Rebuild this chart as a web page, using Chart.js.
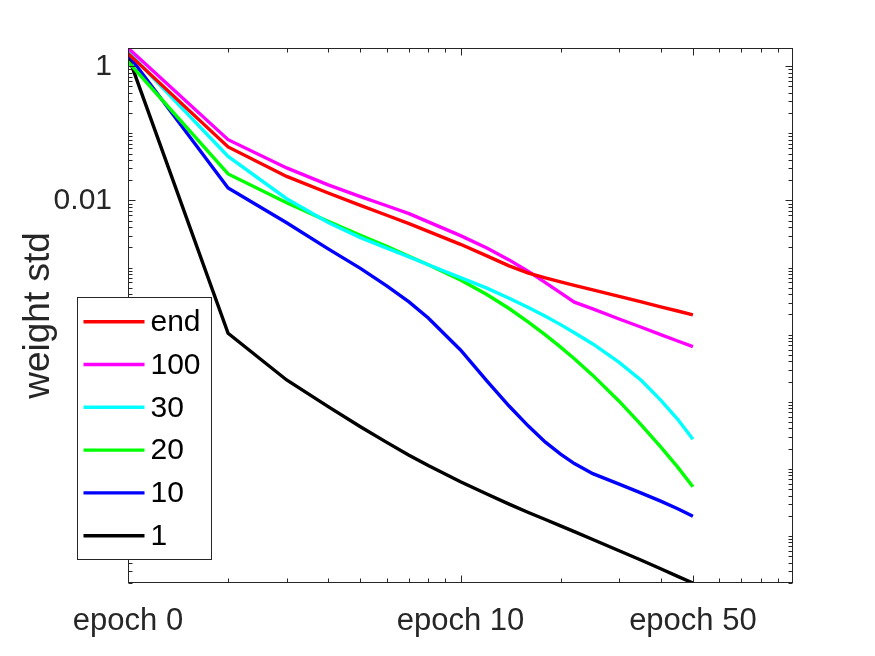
<!DOCTYPE html>
<html><head><meta charset="utf-8">
<script src="https://cdn.jsdelivr.net/npm/chart.js@4/dist/chart.umd.min.js"></script>
<style>html,body{margin:0;padding:0;background:#fff}#wrap{width:875px;height:656px}</style>
</head><body><div id="wrap"><canvas id="c" width="875" height="656"></canvas></div>
<script>
// x positions on the log axis (axis units; labelled as epochs)
const epochs = [1,2,3,4,5,6,7,8,10,12,14,16,18,20,22,25,30,35,40,45,50];

const seriesLabels = ['end','100','30','20','10','1'];
const seriesColors = ['#ff0000','#ff00ff','#00ffff','#00ff00','#0000ff','#000000'];

const stdEnd = [1.55,0.0627,0.0228,0.0129,0.00842,0.00601,0.00451,0.00346,0.00222,1.49e-3,1.06e-3,8.28e-4,7.0e-4,6.12e-4,5.44e-4,4.65e-4,3.71e-4,3.07e-4,2.60e-4,2.25e-4,1.97e-4];
const std100 = [1.87,0.0805,0.0305,0.0171,0.0114,0.00834,0.00637,0.0048,0.00299,1.95e-3,1.30e-3,8.75e-4,5.97e-4,4.19e-4,3.05e-4,2.42e-4,1.71e-4,1.29e-4,1.00e-4,8.05e-5,6.62e-5];
const std30 = [1.66,0.0454,0.0106,0.00468,0.00279,0.00195,0.00144,0.0011,7.06e-4,4.93e-4,3.49e-4,2.54e-4,1.88e-4,1.41e-4,1.07e-4,7.26e-5,3.86e-5,2.07e-5,1.06e-5,5.48e-6,2.77e-6];
const std20 = [1.17,0.0248,0.00925,0.00488,0.00303,0.00207,0.00147,0.0011,6.53e-4,3.97e-4,2.45e-4,1.54e-4,9.9e-5,6.51e-5,4.37e-5,2.47e-5,1.02e-5,4.49e-6,2.12e-6,1.06e-6,5.42e-7];
const std10 = [1.5,0.0153,0.00465,1.90e-3,9.73e-4,5.33e-4,3.08e-4,1.77e-4,5.91e-5,2.04e-5,8.63e-6,4.34e-6,2.50e-6,1.66e-6,1.20e-6,8.48e-7,5.92e-7,4.34e-7,3.30e-7,2.55e-7,1.97e-7];
const std1 = [1.45,1.05e-4,2.11e-5,8.45e-6,4.25e-6,2.48e-6,1.60e-6,1.12e-6,6.44e-7,4.21e-7,2.98e-7,2.24e-7,1.76e-7,1.41e-7,1.16e-7,8.87e-8,6.01e-8,4.34e-8,3.24e-8,2.5e-8,1.99e-8];

const xTickValues = [1,10,50];
const xTickLabels = ['epoch 0','epoch 10','epoch 50'];
const yTickValues = [0.01,1];
const yTickLabels = ['0.01','1'];
const xMinorValues = [2,3,4,5,6,7,8,9,20,30,40,60,70,80,90];
const xRange = [1,100];
const yRange = [1.99e-8,1.87];

const FONT = "'Liberation Sans', Arial, Helvetica, sans-serif";
const AXIS = '#262626';

const allSeries = [stdEnd,std100,std30,std20,std10,std1];
const datasets = allSeries.map((s,i)=>({
  label: seriesLabels[i],
  data: epochs.map((e,j)=>({x:e,y:s[j]})),
  borderColor: seriesColors[i],
  backgroundColor: seriesColors[i],
  borderWidth: 3.4,
  pointRadius: 0,
  tension: 0,
  fill: false
}));

const decor = {
  id:'decor',
  afterDatasetsDraw(chart){
    const {ctx, chartArea:a, scales:{x,y}} = chart;
    ctx.save();
    ctx.strokeStyle = AXIS;
    ctx.lineWidth = 1;
    ctx.beginPath();
    const L = Math.round(a.left)+0.5, R = Math.round(a.right)-0.5, T = Math.round(a.top)+0.5, B = Math.round(a.bottom)-0.5;
    const xt = (v,len)=>{const p=Math.round(x.getPixelForValue(v))+0.5; ctx.moveTo(p,B); ctx.lineTo(p,B-len); ctx.moveTo(p,T); ctx.lineTo(p,T+len);};
    const yt = (v,len)=>{const p=Math.round(y.getPixelForValue(v))+0.5; ctx.moveTo(L,p); ctx.lineTo(L+len,p); ctx.moveTo(R,p); ctx.lineTo(R-len,p);};
    xTickValues.forEach(v=>xt(v,7));
    xMinorValues.forEach(v=>xt(v,4));
    yTickValues.forEach(v=>yt(v,7));
    for(let n=-8;n<=0;n++){
      for(let k=1;k<=9;k++){
        const v=k*Math.pow(10,n);
        if(v<yRange[0]||v>yRange[1]) continue;
        if(yTickValues.some(t=>Math.abs(t-v)/t<1e-9)) continue;
        yt(v,4);
      }
    }
    ctx.stroke();
    ctx.strokeRect(L,T,R-L,B-T);
    ctx.restore();
  },
  afterDraw(chart){
    const {ctx, chartArea:a} = chart;
    const bx = Math.round(a.left)-51+0.5, by = 297.5, bw = 134, bh = 262;
    ctx.save();
    ctx.fillStyle='#fff';
    ctx.fillRect(bx,by,bw,bh);
    ctx.strokeStyle=AXIS; ctx.lineWidth=1;
    ctx.strokeRect(bx,by,bw,bh);
    ctx.font = '30px '+FONT;
    ctx.textBaseline='middle';
    ctx.textAlign='left';
    chart.data.datasets.forEach((ds,i)=>{
      const ry = 321.7 + i*42.8;
      ctx.strokeStyle = ds.borderColor; ctx.lineWidth=3.4;
      ctx.beginPath(); ctx.moveTo(bx+6,ry); ctx.lineTo(bx+67,ry); ctx.stroke();
      ctx.fillStyle='#000';
      ctx.fillText(ds.label, bx+73, ry+1);
    });
    ctx.restore();
  }
};

new Chart(document.getElementById('c'), {
  type:'line',
  data:{datasets},
  options:{
    responsive:false,
    animation:false,
    devicePixelRatio:1,
    layout:{padding:{left:0,right:82,top:48,bottom:0}},
    plugins:{legend:{display:false},tooltip:{enabled:false}},
    scales:{
      x:{
        type:'logarithmic', min:xRange[0], max:xRange[1],
        grid:{display:false, drawTicks:false}, border:{display:false},
        afterBuildTicks:s=>{s.ticks = xTickValues.map(v=>({value:v}));},
        afterFit:s=>{s.height=73;},
        ticks:{autoSkip:false,maxRotation:0,minRotation:0,padding:20,color:AXIS,font:{family:FONT,size:31},
          callback:(v,i)=>xTickLabels[i]}
      },
      y:{
        type:'logarithmic', min:yRange[0], max:yRange[1],
        grid:{display:false, drawTicks:false}, border:{display:false},
        afterBuildTicks:s=>{s.ticks = yTickValues.map(v=>({value:v}));},
        afterFit:s=>{s.width=128;},
        title:{display:true,text:'weight std',color:AXIS,font:{family:FONT,size:37,lineHeight:1},padding:{top:20,bottom:0}},
        ticks:{autoSkip:false,padding:16,color:AXIS,font:{family:FONT,size:30},
          callback:(v,i)=>yTickLabels[i]}
      }
    }
  },
  plugins:[decor]
});
</script>
</body></html>
